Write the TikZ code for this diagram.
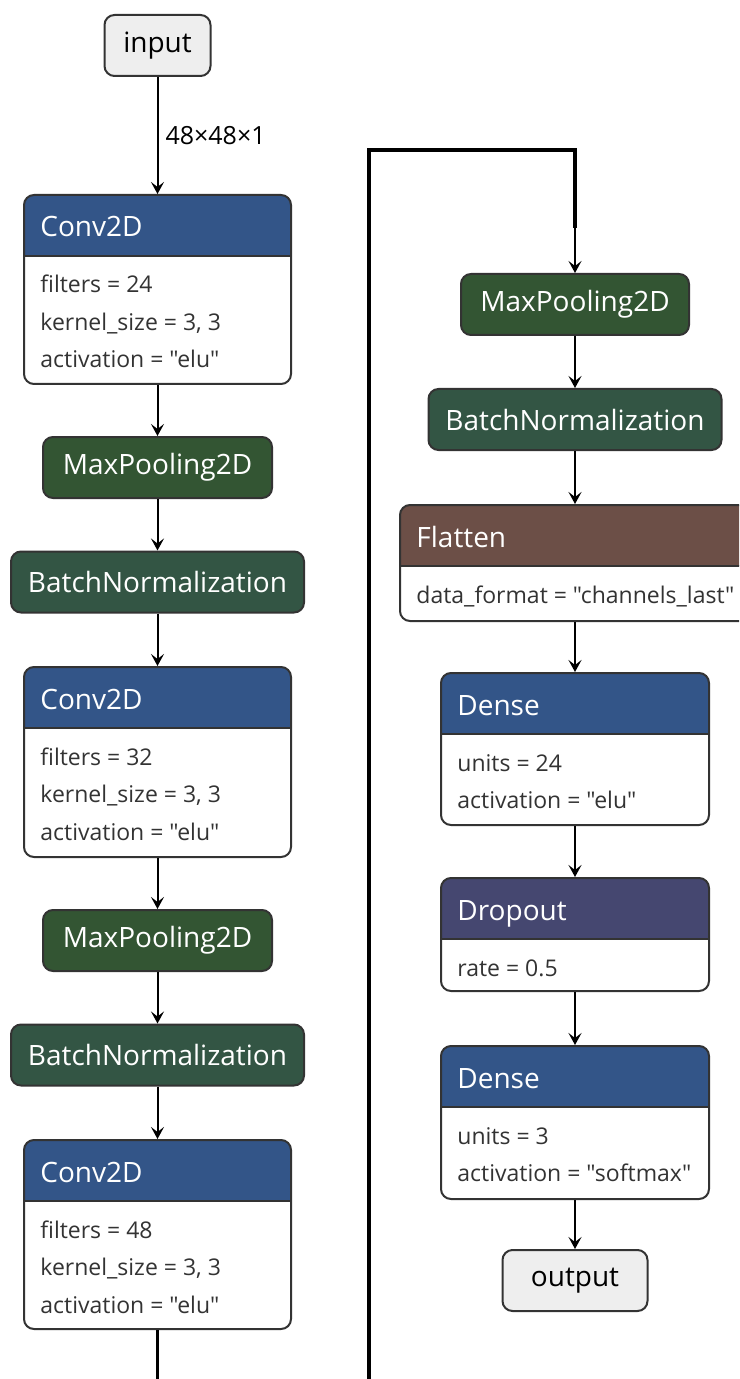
\documentclass[tikz,border=0pt]{standalone}
\usepackage{fontspec}
\setmainfont{Open Sans}[Ligatures=TeXOff]
\usetikzlibrary{arrows.meta}
\definecolor{edgegray}{HTML}{333333}
\definecolor{iofill}{HTML}{EEEEEE}
\definecolor{convblue}{HTML}{335588}
\definecolor{poolgreen}{HTML}{335533}
\definecolor{normgreen}{HTML}{335544}
\definecolor{shapebrown}{HTML}{6C4F47}
\definecolor{dropviolet}{HTML}{454770}
\tikzset{
    box/.style={draw=edgegray, line width=1pt, rounded corners=5pt},
    io/.style={box, fill=iofill, minimum height=30.5pt, minimum width=#1, font=\fontsize{14}{16}\selectfont},
    op/.style={box, fill=#1, text=white, minimum height=30.5pt, font=\fontsize{14}{16}\selectfont},
    layer/.style={box, fill=white, path picture={
        \fill[#1, sharp corners] (path picture bounding box.north west) rectangle ([yshift=-30.5pt]path picture bounding box.north east);
        \draw[edgegray, line width=1pt, sharp corners] ([yshift=-30.5pt]path picture bounding box.north west) -- ([yshift=-30.5pt]path picture bounding box.north east);}},
    ttl/.style={inner sep=0pt, text=white, font=\fontsize{14}{16}\selectfont},
    attr/.style={inner sep=0pt, text=edgegray, font=\fontsize{11.5}{14}\selectfont},
    lbl/.style={inner sep=3.5pt, font=\fontsize{12.5}{14}\selectfont},
    arr/.style={line width=1pt, -{Stealth[length=6pt, width=6.5pt, inset=2.5pt]}},
    wire/.style={line width=1.8pt}
}
% name, x, top y, width, height, colour, title, attribute lines
\newcommand{\layer}[8]{%
    \node[layer=#6, minimum width=#4*0.5pt, minimum height=#5*0.5pt, anchor=north] (#1) at (#2,#3) {};
    \node[ttl, anchor=base west] (#1-t) at ([xshift=8.5pt, yshift=-21.5pt]#1.north west) {#7};
    \foreach \entry [count=\i] in {#8}
    {
        \node[attr, anchor=base west] (#1-\i) at ([xshift=8.5pt, yshift=-30.75pt-18.75pt*\i]#1.north west) {\entry};
    }
}

\begin{document}
\begin{tikzpicture}[x=0.5pt, y=-0.5pt]
    \useasboundingbox (0,0) rectangle (739,1379);
    \clip (0,0) rectangle (739,1379);

    % left column
    \node[io=53pt] (input) at (157.5,45.5) {input};
    \layer{conv1}{157.5}{194}{267}{189}{convblue}{Conv2D}{{filters = 24},{kernel\_size = 3, 3},{activation = "elu"}}
    \node[op=poolgreen, minimum width=114.5pt] (pool1) at (157.5,467.5) {MaxPooling2D};
    \node[op=normgreen, minimum width=146.5pt] (norm1) at (157.5,582) {BatchNormalization};
    \layer{conv2}{157.5}{666}{267}{190}{convblue}{Conv2D}{{filters = 32},{kernel\_size = 3, 3},{activation = "elu"}}
    \node[op=poolgreen, minimum width=114.5pt] (pool2) at (157.5,940.5) {MaxPooling2D};
    \node[op=normgreen, minimum width=146.5pt] (norm2) at (157.5,1055) {BatchNormalization};
    \layer{conv3}{157.5}{1139}{267}{189}{convblue}{Conv2D}{{filters = 48},{kernel\_size = 3, 3},{activation = "elu"}}

    % right column
    \node[op=poolgreen, minimum width=114pt] (pool3) at (575,304.5) {MaxPooling2D};
    \node[op=normgreen, minimum width=146.5pt] (norm3) at (575,419.5) {BatchNormalization};
    \layer{flat}{575}{504}{350}{116}{shapebrown}{Flatten}{{data\_format = "channels\_last"}}
    \layer{dense1}{575}{672}{268}{152}{convblue}{Dense}{{units = 24},{activation = "elu"}}
    \layer{drop}{575}{877}{268}{113}{dropviolet}{Dropout}{{rate = 0.5}}
    \layer{dense2}{575}{1045}{268}{153}{convblue}{Dense}{{units = 3},{activation = "softmax"}}
    \node[io=72.5pt] (output) at (575,1280.5) {output};

    % column break
    \coordinate (cutL) at (157.5,1379);
    \coordinate (cutR) at (369,1379);
    \coordinate (turn) at (575,150);
    \coordinate (mid) at (575,228);

    \draw[arr] (input) -- node[lbl, right] (shape) {48×48×1} (conv1);
    \draw[arr] (conv1) -- (pool1);
    \draw[arr] (pool1) -- (norm1);
    \draw[arr] (norm1) -- (conv2);
    \draw[arr] (conv2) -- (pool2);
    \draw[arr] (pool2) -- (norm2);
    \draw[arr] (norm2) -- (conv3);
    \draw[wire] (conv3) -- (cutL);
    \draw[wire] (cutR) |- (turn) -- (mid);
    \draw[arr] (mid) -- (pool3);
    \draw[arr] (pool3) -- (norm3);
    \draw[arr] (norm3) -- (flat);
    \draw[arr] (flat) -- (dense1);
    \draw[arr] (dense1) -- (drop);
    \draw[arr] (drop) -- (dense2);
    \draw[arr] (dense2) -- (output);
\end{tikzpicture}
\end{document}
